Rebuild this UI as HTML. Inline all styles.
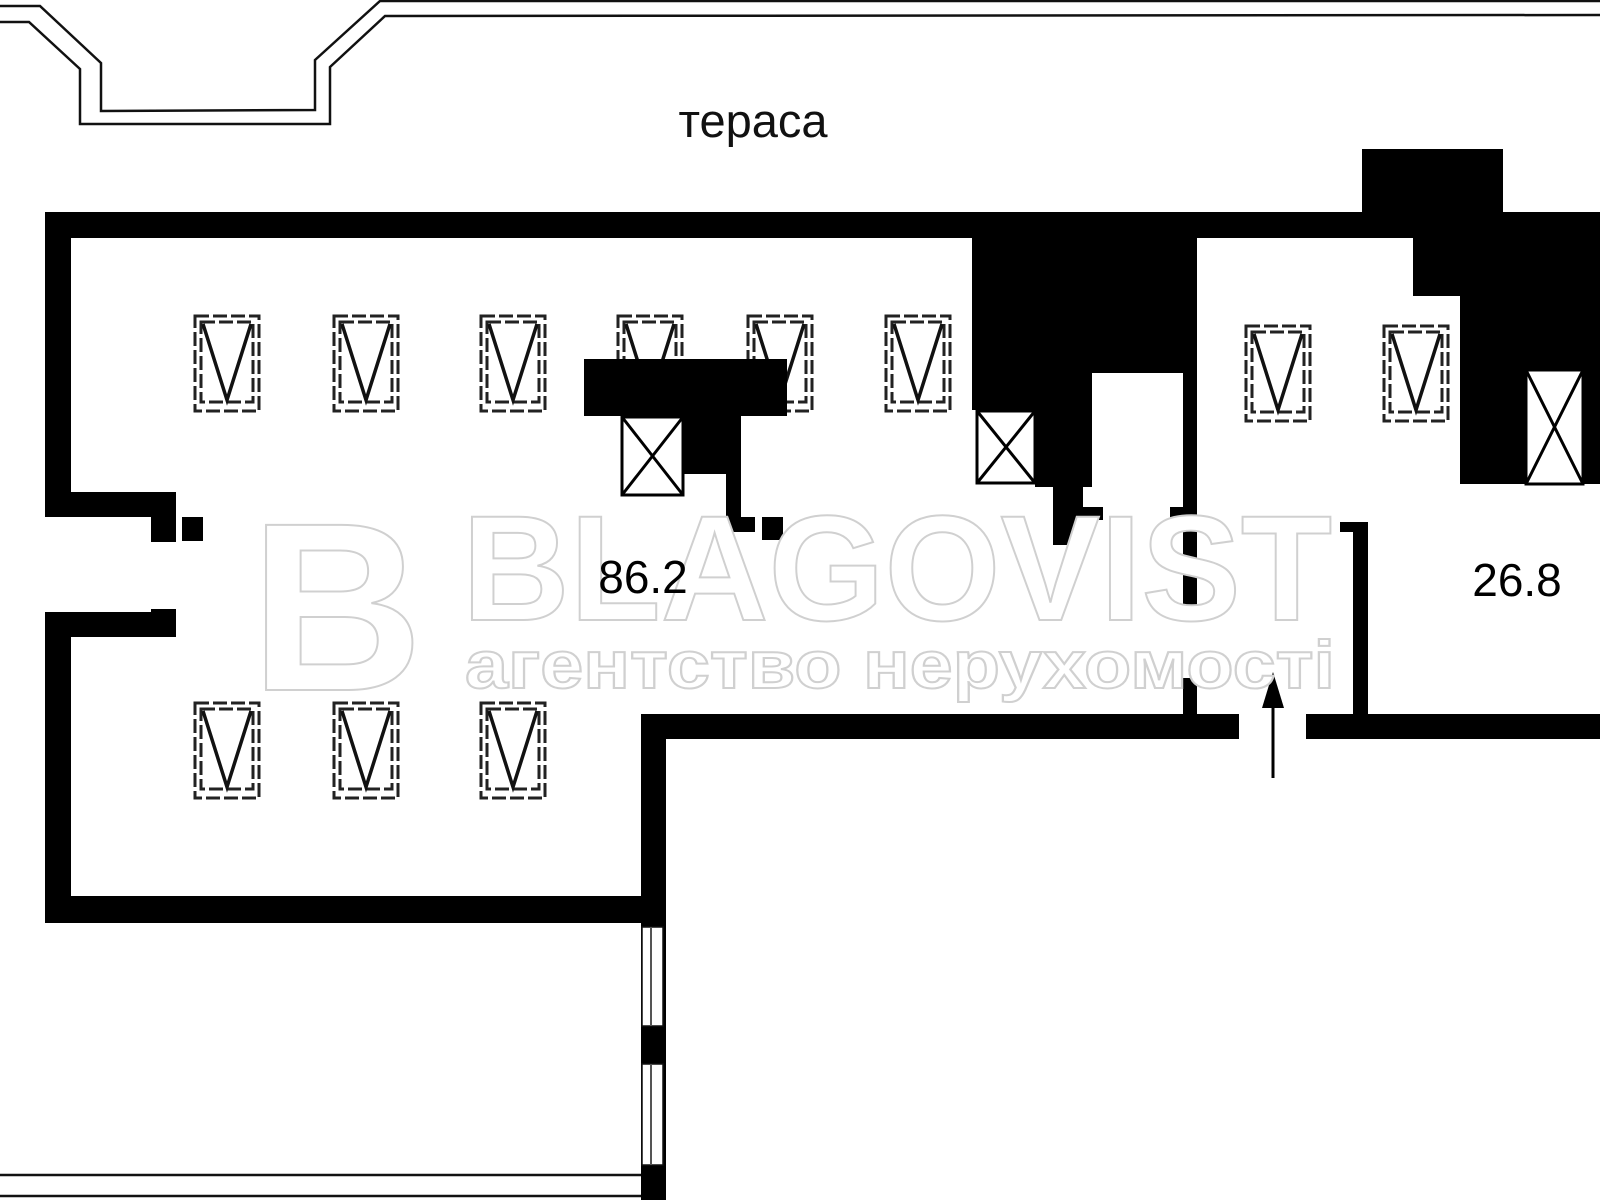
<!DOCTYPE html>
<html><head><meta charset="utf-8"><style>html,body{margin:0;padding:0;background:#fff}svg{display:block}</style></head>
<body>
<svg width="1600" height="1200" viewBox="0 0 1600 1200" xmlns="http://www.w3.org/2000/svg">
<defs>
<g id="vb">
<rect x="1" y="1" width="64" height="95" fill="#fff" stroke="#222" stroke-width="3" stroke-dasharray="14,4"/>
<rect x="7" y="7" width="52" height="80" fill="none" stroke="#222" stroke-width="3" stroke-dasharray="14,4"/>
<polyline points="9,9 33,85 57,9" fill="none" stroke="#111" stroke-width="3.5"/>
</g>
</defs>
<rect width="1600" height="1200" fill="#fff"/>
<polyline points="0,6 40,6 101,63 101,111 315,110 315,60 380,1 1600,1" fill="none" stroke="#111" stroke-width="2.5"/>
<polyline points="0,22 29,22 80,69 80,124 330,124 330,67 385,16 1600,15" fill="none" stroke="#111" stroke-width="2.5"/>
<text x="753" y="137" font-family="Liberation Sans, sans-serif" font-size="47" text-anchor="middle" fill="#111">тераса</text>

<g fill="#000">
<rect x="45" y="212" width="1555" height="26"/>
<rect x="45" y="212" width="26" height="305"/>
<rect x="45" y="492" width="131" height="25"/>
<rect x="151" y="492" width="25" height="50"/>
<rect x="182" y="517" width="21" height="24"/>
<rect x="151" y="609" width="25" height="28"/>
<rect x="45" y="612" width="131" height="25"/>
<rect x="45" y="612" width="26" height="311"/>
<rect x="45" y="896" width="621" height="27"/>
<rect x="641" y="714" width="25" height="486"/>
<rect x="641" y="714" width="598" height="25"/>
<rect x="1306" y="714" width="294" height="25"/>
<rect x="584" y="359" width="203" height="57"/>
<rect x="680" y="416" width="61" height="58"/>
<rect x="726" y="470" width="15" height="62"/>
<rect x="726" y="517" width="29" height="15"/>
<rect x="762" y="517" width="21" height="23"/>
<rect x="972" y="212" width="225" height="161"/>
<rect x="972" y="373" width="120" height="37"/>
<rect x="1035" y="373" width="57" height="114"/>
<rect x="1053" y="480" width="30" height="65"/>
<rect x="1083" y="507" width="20" height="13"/>
<rect x="1170" y="507" width="27" height="13"/>
<rect x="1183" y="373" width="14" height="237"/>
<rect x="1183" y="678" width="14" height="40"/>
<rect x="1362" y="149" width="141" height="70"/>
<rect x="1413" y="212" width="187" height="84"/>
<rect x="1460" y="296" width="140" height="188"/>
<rect x="1353" y="522" width="15" height="195"/>
<rect x="1340" y="522" width="28" height="10"/>
</g>
<g fill="#fff" stroke="#111" stroke-width="1.5">
<rect x="642" y="927" width="21" height="99"/>
<rect x="642" y="1064" width="21" height="101"/>
</g>
<line x1="651" y1="927" x2="651" y2="1026" stroke="#555" stroke-width="2"/>
<line x1="651" y1="1064" x2="651" y2="1165" stroke="#555" stroke-width="2"/>
<line x1="0" y1="1175" x2="641" y2="1175" stroke="#111" stroke-width="2.5"/>
<line x1="0" y1="1196" x2="641" y2="1196" stroke="#111" stroke-width="2.5"/>
<g fill="#fff" stroke="#000" stroke-width="3">
<rect x="622" y="417" width="61" height="78"/>
<line x1="622" y1="417" x2="683" y2="495"/><line x1="683" y1="417" x2="622" y2="495"/>
<rect x="977" y="411" width="58" height="72"/>
<line x1="977" y1="411" x2="1035" y2="483"/><line x1="1035" y1="411" x2="977" y2="483"/>
<rect x="1526" y="370" width="57" height="114"/>
<line x1="1526" y1="370" x2="1583" y2="484"/><line x1="1583" y1="370" x2="1526" y2="484"/>
</g>
<use href="#vb" x="194" y="315"/>
<use href="#vb" x="333" y="315"/>
<use href="#vb" x="480" y="315"/>
<use href="#vb" x="617" y="315"/>
<use href="#vb" x="747" y="315"/>
<use href="#vb" x="885" y="315"/>
<use href="#vb" x="194" y="702"/>
<use href="#vb" x="333" y="702"/>
<use href="#vb" x="480" y="702"/>
<use href="#vb" x="1245" y="325"/>
<use href="#vb" x="1383" y="325"/>
<rect x="584" y="359" width="203" height="57" fill="#000"/>
<line x1="1273" y1="700" x2="1273" y2="778" stroke="#000" stroke-width="3"/>
<polygon points="1273,672 1262,708 1284,708" fill="#000"/>
<g font-family="Liberation Sans, sans-serif" font-weight="bold" fill="#fff" stroke="#d0d0d0" stroke-width="2">
<text x="250" y="690" font-size="240">B</text>
<text x="462" y="620" font-size="150" textLength="870" lengthAdjust="spacingAndGlyphs">BLAGOVIST</text>
<text x="465" y="688" font-size="68" textLength="870" lengthAdjust="spacingAndGlyphs">агентство нерухомості</text>
</g>
<text x="643" y="593" font-family="Liberation Sans, sans-serif" font-size="46" text-anchor="middle" fill="#000">86.2</text>
<text x="1517" y="596" font-family="Liberation Sans, sans-serif" font-size="46" text-anchor="middle" fill="#000">26.8</text>
</svg>
</body></html>
